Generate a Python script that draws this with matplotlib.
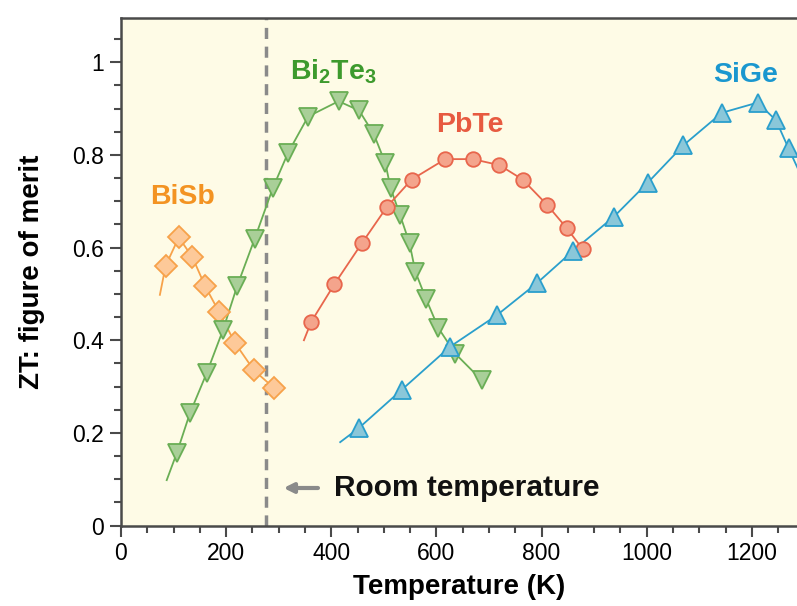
import matplotlib
matplotlib.use("Agg")
import matplotlib.pyplot as plt

plt.rcParams["font.family"] = ["Liberation Sans", "DejaVu Sans"]
plt.rcParams["mathtext.default"] = "regular"

# BiSb (diamonds)
bisb_t = [85, 110, 136, 160, 187, 217, 253, 291]
bisb_zt = [0.561, 0.622, 0.579, 0.517, 0.460, 0.394, 0.335, 0.297]
bisb_line_t = [74] + bisb_t
bisb_line_zt = [0.498] + bisb_zt

# Bi2Te3 (down triangles)
bite_t = [106, 131, 163, 194, 221, 254, 289, 318, 356, 414, 453, 481, 503,
          513, 531, 549, 560, 580, 604, 636, 686]
bite_zt = [0.156, 0.242, 0.329, 0.422, 0.517, 0.618, 0.729, 0.805, 0.883,
           0.916, 0.896, 0.845, 0.782, 0.728, 0.670, 0.609, 0.548, 0.490,
           0.426, 0.371, 0.314]
bite_line_t = [87] + bite_t
bite_line_zt = [0.098] + bite_zt

# PbTe (circles)
pbte_t = [362, 406, 458, 506, 553, 617, 669, 720, 764, 810, 848, 878]
pbte_zt = [0.440, 0.521, 0.609, 0.688, 0.747, 0.791, 0.791, 0.778, 0.747,
           0.693, 0.642, 0.597]
pbte_line_t = [348] + pbte_t
pbte_line_zt = [0.400] + pbte_zt

# SiGe (up triangles)
sige_t = [452, 534, 626, 715, 791, 860, 938, 1002, 1070, 1143, 1211, 1246, 1270]
sige_zt = [0.210, 0.293, 0.386, 0.454, 0.523, 0.593, 0.667, 0.740, 0.821,
           0.891, 0.913, 0.875, 0.814]
sige_line_t = [417] + sige_t + [1300]
sige_line_zt = [0.180] + sige_zt + [0.74]

room_t = 275

fig = plt.figure(figsize=(7.97, 6.06), dpi=100)
ax = fig.add_axes([0.1518, 0.1328, 0.8482, 0.837])
ax.set_facecolor("#fefbe6")

series = [
    (bisb_line_t, bisb_line_zt, bisb_t, bisb_zt, "D", 11, "#f7a24a", "#fdc999"),
    (bite_line_t, bite_line_zt, bite_t, bite_zt, "v", 12.5, "#6aae55", "#a9cf98"),
    (pbte_line_t, pbte_line_zt, pbte_t, pbte_zt, "o", 10.5, "#e8664c", "#f4a48c"),
    (sige_line_t, sige_line_zt, sige_t, sige_zt, "^", 12.5, "#2a9fcc", "#8ac7d9"),
]
for lt, lz, mt, mz, mk, ms, edge, face in series:
    ax.plot(lt, lz, color=edge, lw=1.3, zorder=2)
    ax.plot(mt, mz, linestyle="none", marker=mk, ms=ms, mfc=face, mec=edge,
            mew=1.3, zorder=3)

ax.axvline(room_t, color="#8a8a8a", lw=2.5, ls=(0, (3.2, 2.2)), zorder=1)
ax.annotate("", xy=(304, 0.081), xytext=(380, 0.081),
            arrowprops=dict(arrowstyle="-|>", color="#8a8a8a", lw=3,
                            mutation_scale=14))
ax.text(406, 0.081, "Room temperature", fontsize=21.5, fontweight="bold",
        va="center", ha="left", color="#111111")

ax.text(55, 0.709, "BiSb", color="#f39322", fontsize=20.5, fontweight="bold",
        va="center", ha="left")
ax.text(322, 0.979, r"Bi$_2$Te$_3$", color="#3d9a2d", fontsize=20.5,
        fontweight="bold", va="center", ha="left")
ax.text(600, 0.865, "PbTe", color="#e75a40", fontsize=20.5, fontweight="bold",
        va="center", ha="left")
ax.text(1127, 0.973, "SiGe", color="#1a97cf", fontsize=20.5, fontweight="bold",
        va="center", ha="left")

ax.set_xlim(0, 1286)
ax.set_ylim(0, 1.095)
ax.set_xticks([0, 200, 400, 600, 800, 1000, 1200])
ax.set_xticks(range(0, 1300, 50), minor=True)
ax.set_yticks([0, 0.2, 0.4, 0.6, 0.8, 1.0])
ax.set_yticklabels(["0", "0.2", "0.4", "0.6", "0.8", "1"])
ax.set_yticks([i * 0.05 for i in range(22)], minor=True)

for s in ["left", "bottom", "top"]:
    ax.spines[s].set_color("#4a4a4a")
    ax.spines[s].set_linewidth(1.8)
ax.spines["right"].set_visible(False)
ax.tick_params(which="major", direction="out", length=8, width=1.5,
               color="#4a4a4a", labelsize=16.5, pad=4)
ax.tick_params(which="minor", direction="out", length=5, width=1.5,
               color="#4a4a4a")

ax.set_xlabel("Temperature (K)", fontsize=20, fontweight="bold", labelpad=6)
ax.set_ylabel("ZT: figure of merit", fontsize=20, fontweight="bold",
              labelpad=20)

fig.savefig("out.png", dpi=100)
